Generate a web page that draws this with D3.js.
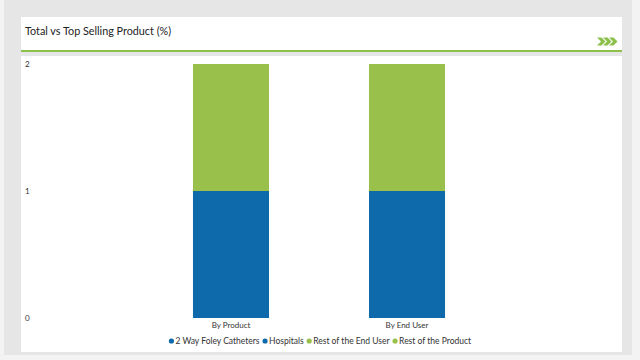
<!DOCTYPE html>
<html><head><meta charset="utf-8">
<script src="https://cdn.jsdelivr.net/npm/d3@7"></script>
<style>
html,body{margin:0;padding:0;background:#f3f3f3;}
svg{display:block;font-family:Lato,"Open Sans",sans-serif;}
</style></head>
<body><svg id="c" width="640" height="360"></svg>
<script>
const categories = ["By Product", "By End User"];
const topSegmentNames = ["2 Way Foley Catheters", "Hospitals"];
const topValues = [1, 1];
const restSegmentNames = ["Rest of the Product", "Rest of the End User"];
const restValues = [1, 1];
const yTicks = [0, 1, 2];
const legendNames = ["2 Way Foley Catheters", "Hospitals", "Rest of the End User", "Rest of the Product"];
const legendKinds = ["top", "top", "rest", "rest"];

const BLUE = "#0e6aab", GREEN = "#98c04a";
const svg = d3.select("#c");

// backgrounds
svg.append("rect").attr("x",4).attr("y",0).attr("width",628).attr("height",355).attr("fill","#e6e6e6");
svg.append("rect").attr("x",21).attr("y",17).attr("width",601).attr("height",35).attr("fill","#fff");
svg.append("rect").attr("x",21).attr("y",50).attr("width",601).attr("height",2).attr("fill","#8cc04a");
svg.append("rect").attr("x",21).attr("y",56).attr("width",601).attr("height",296).attr("fill","#fff");

svg.append("text").attr("x",25).attr("y",35).attr("font-size",10.8).attr("fill","#222")
  .text("Total vs Top Selling Product (%)");

// chevrons
const chev = svg.append("g").attr("fill","#8cc04a");
[0,6,12].forEach(dx=>{
  chev.append("path").attr("d",`M${597+dx},37.5 l4.5,0 l4,4 l-4,4 l-4.5,0 l4,-4 z`);
});

const x = d3.scaleBand().domain(categories).range([93,545]).paddingInner(0.568).paddingOuter(0.568);
const y = d3.scaleLinear().domain([0,2]).range([318,64]);

const rows = categories.map((c,i)=>({cat:c, top:topValues[i], rest:restValues[i]}));
const stack = d3.stack().keys(["top","rest"])(rows);
const colors = {top:BLUE, rest:GREEN};
stack.forEach(layer=>{
  svg.append("g").selectAll("rect").data(layer).join("rect")
    .attr("x",d=>x(d.data.cat)).attr("width",x.bandwidth())
    .attr("y",d=>y(d[1])).attr("height",d=>y(d[0])-y(d[1]))
    .attr("fill",colors[layer.key]);
});

// y axis labels
const ya = svg.append("g").attr("transform","translate(24,0)")
  .call(d3.axisLeft(y).tickValues(yTicks).tickFormat(d3.format("d")).tickSize(0).tickPadding(0));
ya.select(".domain").remove();
ya.selectAll("text").attr("text-anchor","start").attr("x",1).attr("dy","0.32em")
  .attr("font-size",8).attr("fill","#333").attr("font-family","Lato,sans-serif");

// x axis labels
const xa = svg.append("g").attr("transform","translate(0,318)")
  .call(d3.axisBottom(x).tickSize(0).tickPadding(4));
xa.select(".domain").remove();
xa.selectAll("text").attr("font-size",8).attr("fill","#333").attr("font-family","Lato,sans-serif");

// legend
const lg = svg.append("g");
let cx = 0;
legendNames.forEach((n,i)=>{
  const g = lg.append("g");
  g.append("circle").attr("cx",cx+2.5).attr("cy",-3).attr("r",2.6).attr("fill",colors[legendKinds[i]]);
  const t = g.append("text").attr("x",cx+6.5).attr("y",0).attr("font-size",8.5).attr("fill","#333").text(n);
  cx += 6.5 + t.node().getComputedTextLength() + 3;
});
lg.attr("transform",`translate(${320 - (cx-3)/2},344)`);
</script></body></html>
